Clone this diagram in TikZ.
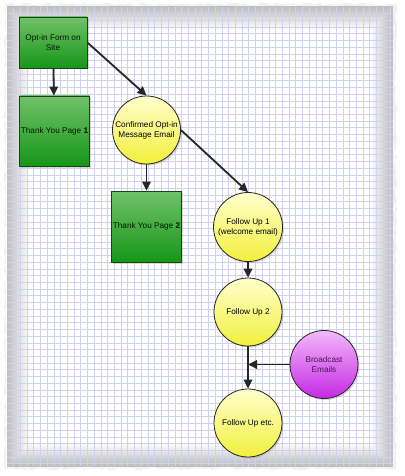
\documentclass[tikz,border=0pt]{standalone}
\usepackage{fontspec}
\setmainfont{Liberation Sans}
\usetikzlibrary{arrows.meta,shadows,decorations.pathmorphing}

\definecolor{gridblue}{RGB}{208,208,240}
\definecolor{boxtop}{RGB}{112,194,104}
\definecolor{boxbot}{RGB}{22,150,24}
\definecolor{boxline}{RGB}{24,66,24}
\definecolor{yeltop}{RGB}{255,255,205}
\definecolor{yelbot}{RGB}{242,240,60}
\definecolor{purtop}{RGB}{242,185,250}
\definecolor{purbot}{RGB}{198,40,228}
\definecolor{purtext}{RGB}{70,20,90}

\tikzset{
  stepnode/.style={align=center,inner sep=0pt,font=\fontsize{8.2}{9.8}\selectfont,
    drop shadow={opacity=0.3,shadow xshift=1.5pt,shadow yshift=-1.5pt}},
  greenbox/.style={stepnode,draw=boxline,thick,top color=boxtop,bottom color=boxbot,
    text=black!90!green,minimum width=70pt,minimum height=70pt},
  yelcirc/.style={stepnode,circle,draw=black!85,thick,top color=yeltop,bottom color=yelbot,
    minimum size=68pt},
  purcirc/.style={stepnode,circle,draw=black!85,thick,top color=purtop,bottom color=purbot,
    text=purtext,minimum size=68pt},
  arr/.style={draw=black!85,line width=1.8pt,-{Triangle[length=9pt,width=8.5pt]}}
}

\begin{document}
\begin{tikzpicture}[x=1pt,y=-1pt]
    \useasboundingbox (0,0) rectangle (404,476);
    % paper
    \fill[black!6,decorate,decoration={random steps,segment length=4pt,amplitude=1.2pt}]
        (5,4) rectangle (396,469);
    \fill[white,decorate,decoration={random steps,segment length=5pt,amplitude=0.8pt}]
        (6,6) rectangle (394,467);
    \begin{scope}
        \clip (7,7) rectangle (393,466);
        \foreach \w in {4,8,...,44}
            \draw[line width=\w pt,black,opacity=0.022] (7,7) rectangle (393,466);
        \draw[gridblue,line width=0.4pt,step=6.72pt] (7,7) grid (393,466);
    \end{scope}

    \coordinate (p-form) at (53,42.5);
    \coordinate (p-typ1) at (54.5,131);
    \coordinate (p-conf) at (146.5,130);
    \coordinate (p-typ2) at (146.5,226.5);
    \coordinate (p-fu1) at (248,227);
    \coordinate (p-fu2) at (248,312);
    \coordinate (p-bcast) at (324,364.5);
    \coordinate (p-fuetc) at (248,423);
    \coordinate (jn) at (248,364.5);

    \node[greenbox,minimum width=68pt,minimum height=51pt] (form) at (p-form) {Opt-in Form on\\Site};
    \node[greenbox] (typ1) at (p-typ1) {Thank You Page \textbf{1}};
    \node[yelcirc] (conf) at (p-conf) {Confirmed Opt-in\\Message Email};
    \node[greenbox,minimum height=71pt] (typ2) at (p-typ2) {Thank You Page \textbf{2}};
    \node[yelcirc,minimum size=69pt] (fu1) at (p-fu1) {Follow Up 1\\(welcome email)};
    \node[yelcirc] (fu2) at (p-fu2) {Follow Up 2};
    \node[purcirc] (bcast) at (p-bcast) {Broadcast\\Emails};
    \node[yelcirc] (fuetc) at (p-fuetc) {Follow Up etc.};

    \draw[arr] (form) -- (typ1);
    \draw[arr] (form.east) -- (conf.north);
    \draw[arr] (conf) -- (typ2);
    \draw[arr] (conf.east) -- (fu1.north);
    \draw[arr] (fu1) -- (fu2);
    \draw[arr] (fu2) -- (fuetc);
    \draw[arr] (bcast) -- (jn);
\end{tikzpicture}
\end{document}
